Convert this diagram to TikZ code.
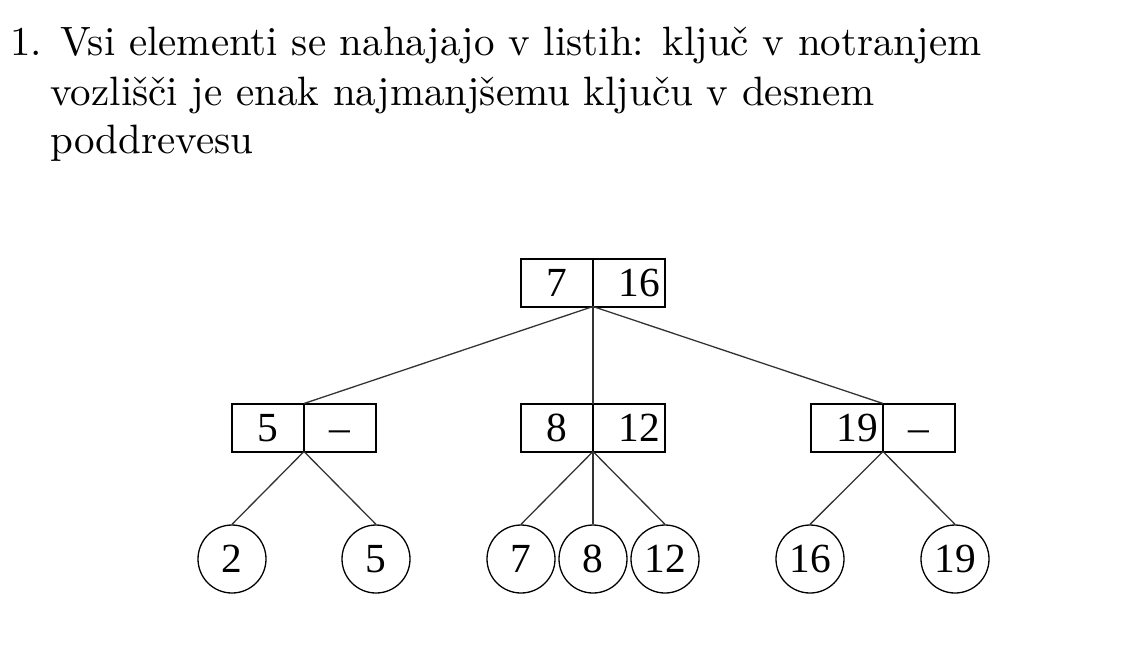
\documentclass[tikz,border=0pt]{standalone}
\usepackage{fontspec}
\newfontfamily\treefont{Liberation Serif}
\newfontfamily\headfont{lmroman10-regular.otf}
\usetikzlibrary{positioning}

\begin{document}
\begin{tikzpicture}[x=0.5pt,y=-0.5pt,
  cell/.style={draw,line width=1pt,minimum width=36pt,minimum height=24pt,
    text height=14pt,text depth=0pt,
    inner sep=0pt,outer sep=0pt,font=\treefont\fontsize{20.7}{24}\selectfont},
  wide/.style={text width=31pt,align=right},
  leaf/.style={draw,circle,line width=0.65pt,minimum size=34pt,inner sep=0pt,
    font=\treefont\fontsize{20.7}{24}\selectfont},
  head/.style={anchor=base west,inner sep=0pt,font=\headfont\fontsize{20.5}{24}\selectfont},
  edge/.style={line width=0.65pt,black!80}]

% Page frame
\useasboundingbox (0,0) rectangle (1125,655);

% Heading
\node[head] (t1) at (10,55) {1. Vsi elementi se nahajajo v listih: ključ v notranjem};
\node[head] (t2) at (50,105) {vozlišči je enak najmanjšemu ključu v desnem};
\node[head] (t3) at (50,153) {poddrevesu};

% Root
\node[cell] (k1a) at (557,282.5) {7};
\node[cell,wide,right=0pt of k1a] (k1b) {16};

% Inner nodes
\node[cell] (k2a) at (268,427.5) {5};
\node[cell,right=0pt of k2a] (k2b) {\textendash};
\node[cell] (k3a) at (557,427.5) {8};
\node[cell,wide,right=0pt of k3a] (k3b) {12};
\node[cell,wide] (k4a) at (847,427.5) {19};
\node[cell,right=0pt of k4a] (k4b) {\textendash};

% Leaves
\node[leaf] (l2)  at (232,559) {2};
\node[leaf] (l5)  at (376,559) {5};
\node[leaf] (l7)  at (521,559) {7};
\node[leaf] (l8)  at (593,559) {8};
\node[leaf] (l12) at (665,559) {12};
\node[leaf] (l16) at (810,559) {16};
\node[leaf] (l19) at (955,559) {19};

% Edges
\draw[edge] (k1a.south east) -- (k2a.north east);
\draw[edge] (k1a.south east) -- (k3a.north east);
\draw[edge] (k1a.south east) -- (k4a.north east);
\draw[edge] (k2a.south east) -- (l2.north);
\draw[edge] (k2a.south east) -- (l5.north);
\draw[edge] (k3a.south east) -- (l7.north);
\draw[edge] (k3a.south east) -- (l8.north);
\draw[edge] (k3a.south east) -- (l12.north);
\draw[edge] (k4a.south east) -- (l16.north);
\draw[edge] (k4a.south east) -- (l19.north);

\end{tikzpicture}
\end{document}
